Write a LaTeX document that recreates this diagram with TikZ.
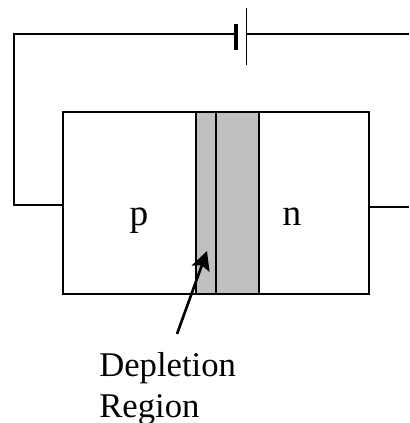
\documentclass[tikz,border=0pt]{standalone}
\usepackage{fontspec}
\setmainfont{Liberation Serif}
\usetikzlibrary{calc, arrows.meta}
\definecolor{depletion}{RGB}{192,192,192}
\tikzset{
    wire/.style={line width=1.1pt},
    region/.style={draw, line width=1.1pt, inner sep=0pt, outer sep=0pt},
    label/.style={font=\fontsize{26}{40}\selectfont, inner sep=0pt}
}

\begin{document}
\begin{tikzpicture}[x=0.75pt, y=-0.75pt]
    \useasboundingbox (0, 0) rectangle (409, 423);

    % diode body and the two shaded parts
    \node[region, minimum width=229.5pt, minimum height=136.5pt] (body) at (216, 203) {};
    \node[region, fill=depletion, minimum width=15pt, minimum height=136.5pt] (left) at (206, 203) {};
    \node[region, fill=depletion, minimum width=32.25pt, minimum height=136.5pt] (right) at (237.5, 203) {};

    \coordinate (cornerTL) at (14, 34);
    \coordinate (cornerBL) at (14, 205);
    \coordinate (plateA) at (236, 34);
    \coordinate (plateB) at (246, 34);
    \coordinate (endR) at (409, 34);
    \coordinate (leadR) at (409, 207);

    % circuit
    \draw[wire] (body.west |- cornerBL) -- (cornerBL) -- (cornerTL) -- (plateA);
    \draw[wire] (plateB) -- (endR);
    \draw[wire] (body.east |- leadR) -- (leadR);

    % battery
    \draw[line width=2.6pt] ($(plateA)+(0,-10)$) -- ($(plateA)+(0,16)$);
    \draw[line width=0.7pt] ($(plateB)+(0,-26)$) -- ($(plateB)+(0,31)$);

    \node[label, font=\fontsize{28}{40}\selectfont, anchor=base] (p) at (139, 226) {p};
    \node[label, font=\fontsize{28}{40}\selectfont, anchor=base] (n) at (292, 226) {n};
    \node[label, anchor=base west] (depl) at (99, 376) {Depletion};
    \node[label, anchor=base west] (reg) at (99, 417) {Region};

    \coordinate (tail) at (177, 334);
    \coordinate (tip) at (207, 251);
    \draw[-{Stealth[length=14pt, width=14pt, inset=2.5pt]}, line width=2pt] (tail) -- (tip);
\end{tikzpicture}
\end{document}
